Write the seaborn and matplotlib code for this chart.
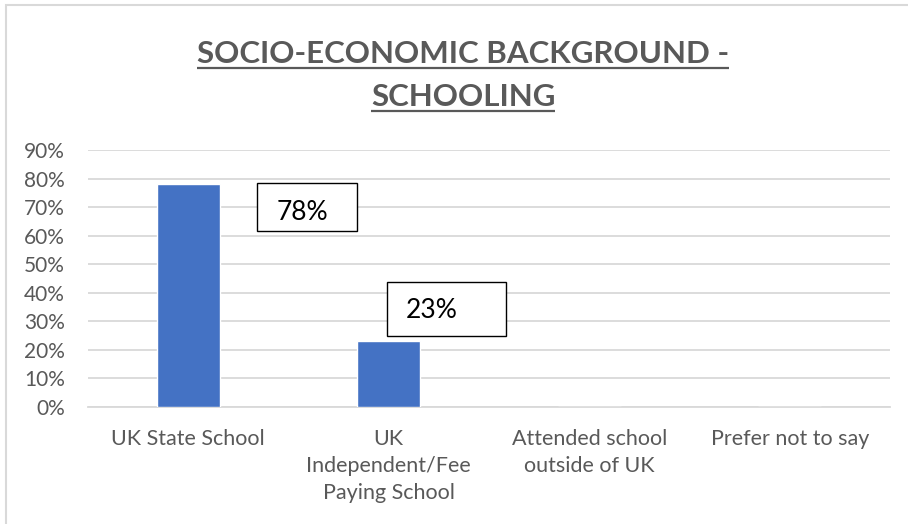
import matplotlib
matplotlib.use("Agg")
import matplotlib.pyplot as plt
import seaborn as sns
import pandas as pd
from matplotlib.patches import Rectangle
from matplotlib.lines import Line2D
from matplotlib.ticker import FuncFormatter

# Survey data
categories = ["UK State School", "UK\nIndependent/Fee\nPaying School",
              "Attended school\noutside of UK", "Prefer not to say"]
shares = [78, 23, 0, 0]
label_texts = ["78%", "23%"]
title_lines = ["SOCIO-ECONOMIC BACKGROUND -", "SCHOOLING"]

df = pd.DataFrame({"category": categories, "share": shares})

sns.set_theme(style="white")
plt.rcParams["font.family"] = ["Lato", "DejaVu Sans"]

W, H = 908, 524
fig = plt.figure(figsize=(W / 100, H / 100), dpi=100)
ax = fig.add_axes([88 / W, (H - 406.7) / H, (890 - 88) / W, (406.7 - 150) / H])

sns.barplot(data=df, x="category", y="share", color="#4472C4",
            saturation=1, width=0.315, ax=ax, zorder=3)

ax.set_xlim(-0.5, 3.5)
ax.set_ylim(0, 90)
ax.set_yticks(range(0, 91, 10))
ax.yaxis.set_major_formatter(FuncFormatter(lambda v, _: f"{v:.0f}%"))
ax.grid(axis="y", color="#d9d9d9", linewidth=1.3, zorder=0)
ax.set_xlabel("")
ax.set_ylabel("")
for side in ["top", "right", "left"]:
    ax.spines[side].set_visible(False)
ax.spines["bottom"].set_color("#d9d9d9")
ax.spines["bottom"].set_linewidth(1.3)
ax.tick_params(axis="both", length=0, labelsize=15.5, colors="#595959")
ax.tick_params(axis="x", pad=16)
ax.tick_params(axis="y", labelsize=15, pad=16.5)
for lbl in ax.get_xticklabels():
    lbl.set_linespacing(1.45)
    lbl.set_verticalalignment("top")

# Boxed value labels placed beside their bars
box_specs = [  # (bar index, left offset, bottom, width, height, text dx, text y)
    (0, 0.345, 61.6, 0.495, 16.8, 0.57, 68.0),
    (1, -0.01, 24.8, 0.595, 18.9, 0.215, 33.7),
]
for (i, dx, b, w, h, tx, ty), txt in zip(box_specs, label_texts):
    ax.add_patch(Rectangle((i + dx, b), w, h, facecolor="white",
                           edgecolor="black", linewidth=1.0, zorder=4))
    ax.text(i + tx, ty, txt, ha="center", va="center", fontsize=19,
            color="black", zorder=5)

# Title, one text per line, each underlined
renderer = fig.canvas.get_renderer()
for line, base_px in zip(title_lines, [63, 106]):
    t = fig.text(463 / W, 1 - base_px / H, line, ha="center", va="baseline",
                 fontsize=22.5, fontweight="bold", color="#595959")
    bb = t.get_window_extent(renderer=renderer)
    uy = 1 - (base_px + 4.5) / H
    fig.add_artist(Line2D([bb.x0 / W, bb.x1 / W], [uy, uy],
                          transform=fig.transFigure, color="#595959",
                          linewidth=1.6, solid_capstyle="butt"))

# Chart frame
fig.patches.append(Rectangle((6 / W, -0.1), 1.2, 1 - 5 / H + 0.1,
                             transform=fig.transFigure, fill=False,
                             edgecolor="#d9d9d9", linewidth=1.5))

fig.savefig("out.png", dpi=100, facecolor="white")
